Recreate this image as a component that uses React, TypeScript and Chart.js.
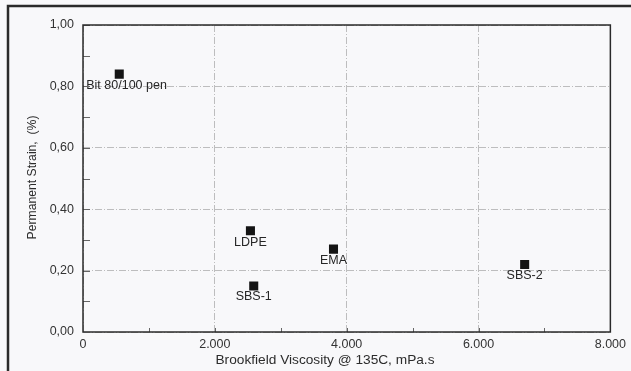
import React, { useEffect, useRef } from 'react';
import { Chart, registerables } from 'chart.js';

Chart.register(...registerables);

const materials = ['Bit 80/100 pen', 'LDPE', 'SBS-1', 'EMA', 'SBS-2'];
const viscosity = [550, 2540, 2590, 3800, 6700];
const permanentStrain = [0.84, 0.33, 0.15, 0.27, 0.22];
const xTickValues = [0, 2000, 4000, 6000, 8000];
const yTickValues = [0, 0.2, 0.4, 0.6, 0.8, 1.0];
const xTitle = 'Brookfield Viscosity @ 135C, mPa.s';
const yTitle = 'Permanent Strain,  (%)';

const FONT = '"Liberation Sans", Arial, sans-serif';
const FONT_SIZE = 12.5;

const fmtX = (v: number) => {
  if (v === 0) return '0';
  const s = Math.round(v).toString();
  return s.replace(/\B(?=(\d{3})+(?!\d))/g, '.');
};
const fmtY = (v: number) => v.toFixed(2).replace('.', ',');

const framePlugin = {
  id: 'frame',
  beforeDraw(chart: any) {
    const ctx = chart.ctx;
    ctx.save();
    ctx.fillStyle = '#f8f8fa';
    ctx.fillRect(0, 0, chart.width, chart.height);
    ctx.strokeStyle = '#2a2a2a';
    ctx.lineWidth = 2.5;
    ctx.beginPath();
    ctx.moveTo(8, chart.height);
    ctx.lineTo(8, 6);
    ctx.lineTo(chart.width, 6);
    ctx.stroke();
    ctx.restore();
  },
  afterDraw(chart: any) {
    const ctx = chart.ctx;
    const a = chart.chartArea;
    const xs = chart.scales.x;
    const ys = chart.scales.y;
    ctx.save();
    // inward ticks
    ctx.strokeStyle = '#666';
    ctx.lineWidth = 1;
    ctx.beginPath();
    for (let v = 0.1; v < 1.0; v += 0.1) {
      const py = Math.round(ys.getPixelForValue(v)) + 0.5;
      ctx.moveTo(a.left, py);
      ctx.lineTo(a.left + 7, py);
    }
    for (let v = 1000; v < 8000; v += 1000) {
      const px = Math.round(xs.getPixelForValue(v)) + 0.5;
      ctx.moveTo(px, a.bottom);
      ctx.lineTo(px, a.bottom - 4);
    }
    ctx.stroke();
    // plot box
    ctx.strokeStyle = '#2a2a2a';
    ctx.lineWidth = 1.5;
    ctx.strokeRect(a.left, a.top, a.right - a.left, a.bottom - a.top);
    // axis titles
    ctx.fillStyle = '#2c2c2c';
    ctx.textAlign = 'center';
    ctx.textBaseline = 'middle';
    ctx.font = `13.7px ${FONT}`;
    ctx.fillText(xTitle, 325, 360);
    ctx.font = `12.2px ${FONT}`;
    ctx.translate(33, 177.5);
    ctx.rotate(-Math.PI / 2);
    ctx.fillText(yTitle, 0, 0);
    ctx.restore();
  },
};

const pointLabelPlugin = {
  id: 'pointLabels',
  afterDatasetsDraw(chart: any, _args: any, opts: any) {
    const ctx = chart.ctx;
    const meta = chart.getDatasetMeta(0);
    const placements = opts.placements || [];
    ctx.save();
    ctx.font = `${FONT_SIZE}px ${FONT}`;
    ctx.fillStyle = '#262626';
    ctx.textBaseline = 'middle';
    meta.data.forEach((el: any, i: number) => {
      const p = placements[i] || { dx: 0, dy: 11, align: 'center' };
      ctx.textAlign = p.align;
      ctx.fillText(materials[i], el.x + p.dx, el.y + p.dy);
    });
    ctx.restore();
  },
};

const gridOpts = {
  color: 'rgba(130,130,130,0.5)',
  lineWidth: 1,
  drawTicks: false,
};

export default function App() {
  const ref = useRef<HTMLCanvasElement | null>(null);
  useEffect(() => {
    if (!ref.current) return;
    const chart = new Chart(ref.current, {
      type: 'scatter',
      data: {
        datasets: [
          {
            label: 'Permanent Strain',
            data: viscosity.map((x, i) => ({ x, y: permanentStrain[i] })),
            pointStyle: 'rect',
            pointRadius: 6.4,
            pointHoverRadius: 6.4,
            backgroundColor: '#141414',
            borderColor: '#141414',
            borderWidth: 0,
          },
        ],
      },
      options: {
        responsive: false,
        animation: false,
        layout: { padding: { top: 25, right: 19, left: 0, bottom: 0 } },
        plugins: {
          legend: { display: false },
          tooltip: { enabled: false },
          pointLabels: {
            placements: [
              { dx: -33, dy: 11, align: 'left' },
              { dx: 0, dy: 12, align: 'center' },
              { dx: 0, dy: 11, align: 'center' },
              { dx: 0, dy: 11, align: 'center' },
              { dx: 0, dy: 11, align: 'center' },
            ],
          },
        } as any,
        scales: {
          x: {
            type: 'linear',
            min: 0,
            max: 8000,
            afterBuildTicks: (s: any) => {
              s.ticks = xTickValues.map((value) => ({ value }));
            },
            afterFit: (s: any) => {
              s.height = 39;
            },
            ticks: {
              callback: (v: any) => fmtX(Number(v)),
              font: { family: FONT, size: FONT_SIZE },
              color: '#333',
              padding: 5,
              maxRotation: 0,
            },
            grid: gridOpts,
            border: { display: false, dash: [7, 2, 1, 2] },
          },
          y: {
            type: 'linear',
            min: 0,
            max: 1,
            afterBuildTicks: (s: any) => {
              s.ticks = yTickValues.map((value) => ({ value }));
            },
            afterFit: (s: any) => {
              s.width = 83;
            },
            ticks: {
              callback: (v: any) => fmtY(Number(v)),
              font: { family: FONT, size: FONT_SIZE },
              color: '#333',
              padding: 9,
            },
            grid: gridOpts,
            border: { display: false, dash: [7, 2, 1, 2] },
          },
        },
      } as any,
      plugins: [framePlugin, pointLabelPlugin],
    });
    return () => chart.destroy();
  }, []);
  return (
    <div style={{ position: 'fixed', left: 0, top: 0, width: 631, height: 371 }}>
      <canvas ref={ref} width={631} height={371} style={{ width: 631, height: 371, display: 'block' }} />
    </div>
  );
}
